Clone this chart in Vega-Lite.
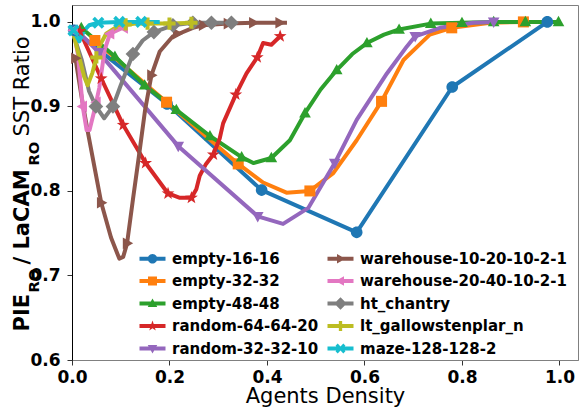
{
  "$schema": "https://vega.github.io/schema/vega-lite/v6.json",
  "width": 506,
  "height": 355,
  "autosize": {"type": "none"},
  "padding": {"left": 72, "top": 5, "right": 1, "bottom": 48},
  "config": {
    "font": "DejaVu Sans",
    "view": {"stroke": "#808080"},
    "axis": {"labelColor": "black", "titleColor": "black", "grid": false}
  },
  "datasets": {
    "lines": [
      {"s": "empty-16-16", "x": 0.004, "y": 0.99},
      {"s": "empty-16-16", "x": 0.195, "y": 0.903},
      {"s": "empty-16-16", "x": 0.389, "y": 0.801},
      {"s": "empty-16-16", "x": 0.584, "y": 0.751},
      {"s": "empty-16-16", "x": 0.78, "y": 0.923},
      {"s": "empty-16-16", "x": 0.975, "y": 1.0},
      {"s": "empty-32-32", "x": 0.047, "y": 0.978},
      {"s": "empty-32-32", "x": 0.194, "y": 0.905},
      {"s": "empty-32-32", "x": 0.341, "y": 0.832},
      {"s": "empty-32-32", "x": 0.392, "y": 0.81},
      {"s": "empty-32-32", "x": 0.44, "y": 0.798},
      {"s": "empty-32-32", "x": 0.488, "y": 0.8},
      {"s": "empty-32-32", "x": 0.536, "y": 0.821},
      {"s": "empty-32-32", "x": 0.584, "y": 0.86},
      {"s": "empty-32-32", "x": 0.635, "y": 0.906},
      {"s": "empty-32-32", "x": 0.68, "y": 0.955},
      {"s": "empty-32-32", "x": 0.734, "y": 0.985},
      {"s": "empty-32-32", "x": 0.779, "y": 0.993},
      {"s": "empty-32-32", "x": 0.858, "y": 0.999},
      {"s": "empty-32-32", "x": 0.926, "y": 1.0},
      {"s": "empty-48-48", "x": 0.019, "y": 0.993},
      {"s": "empty-48-48", "x": 0.088, "y": 0.959},
      {"s": "empty-48-48", "x": 0.149, "y": 0.925},
      {"s": "empty-48-48", "x": 0.214, "y": 0.896},
      {"s": "empty-48-48", "x": 0.283, "y": 0.865},
      {"s": "empty-48-48", "x": 0.348, "y": 0.84},
      {"s": "empty-48-48", "x": 0.372, "y": 0.833},
      {"s": "empty-48-48", "x": 0.409, "y": 0.839},
      {"s": "empty-48-48", "x": 0.447, "y": 0.86},
      {"s": "empty-48-48", "x": 0.478, "y": 0.892},
      {"s": "empty-48-48", "x": 0.51, "y": 0.92},
      {"s": "empty-48-48", "x": 0.543, "y": 0.943},
      {"s": "empty-48-48", "x": 0.575, "y": 0.962},
      {"s": "empty-48-48", "x": 0.605, "y": 0.975},
      {"s": "empty-48-48", "x": 0.64, "y": 0.985},
      {"s": "empty-48-48", "x": 0.671, "y": 0.991},
      {"s": "empty-48-48", "x": 0.736, "y": 0.998},
      {"s": "empty-48-48", "x": 0.8, "y": 0.999},
      {"s": "empty-48-48", "x": 0.865, "y": 1.0},
      {"s": "empty-48-48", "x": 0.93, "y": 1.0},
      {"s": "empty-48-48", "x": 0.998, "y": 1.0},
      {"s": "random-64-64-20", "x": 0.003, "y": 0.993},
      {"s": "random-64-64-20", "x": 0.016, "y": 0.989},
      {"s": "random-64-64-20", "x": 0.06, "y": 0.933},
      {"s": "random-64-64-20", "x": 0.105, "y": 0.878},
      {"s": "random-64-64-20", "x": 0.151, "y": 0.833},
      {"s": "random-64-64-20", "x": 0.197, "y": 0.797},
      {"s": "random-64-64-20", "x": 0.22, "y": 0.792},
      {"s": "random-64-64-20", "x": 0.245, "y": 0.792},
      {"s": "random-64-64-20", "x": 0.255, "y": 0.802},
      {"s": "random-64-64-20", "x": 0.262, "y": 0.818},
      {"s": "random-64-64-20", "x": 0.275, "y": 0.832},
      {"s": "random-64-64-20", "x": 0.29, "y": 0.843},
      {"s": "random-64-64-20", "x": 0.303, "y": 0.862},
      {"s": "random-64-64-20", "x": 0.31, "y": 0.88},
      {"s": "random-64-64-20", "x": 0.336, "y": 0.914},
      {"s": "random-64-64-20", "x": 0.358, "y": 0.939},
      {"s": "random-64-64-20", "x": 0.38, "y": 0.958},
      {"s": "random-64-64-20", "x": 0.392, "y": 0.975},
      {"s": "random-64-64-20", "x": 0.409, "y": 0.973},
      {"s": "random-64-64-20", "x": 0.427, "y": 0.983},
      {"s": "random-32-32-10", "x": 0.01, "y": 0.99},
      {"s": "random-32-32-10", "x": 0.055, "y": 0.964},
      {"s": "random-32-32-10", "x": 0.218, "y": 0.853},
      {"s": "random-32-32-10", "x": 0.381, "y": 0.77},
      {"s": "random-32-32-10", "x": 0.433, "y": 0.761},
      {"s": "random-32-32-10", "x": 0.485, "y": 0.78},
      {"s": "random-32-32-10", "x": 0.539, "y": 0.833},
      {"s": "random-32-32-10", "x": 0.584, "y": 0.884},
      {"s": "random-32-32-10", "x": 0.646, "y": 0.939},
      {"s": "random-32-32-10", "x": 0.687, "y": 0.971},
      {"s": "random-32-32-10", "x": 0.704, "y": 0.983},
      {"s": "random-32-32-10", "x": 0.755, "y": 0.993},
      {"s": "random-32-32-10", "x": 0.823, "y": 0.999},
      {"s": "random-32-32-10", "x": 0.865, "y": 1.0},
      {"s": "warehouse-10-20-10-2-1", "x": 0.007, "y": 0.957},
      {"s": "warehouse-10-20-10-2-1", "x": 0.02, "y": 0.91},
      {"s": "warehouse-10-20-10-2-1", "x": 0.033, "y": 0.868},
      {"s": "warehouse-10-20-10-2-1", "x": 0.06, "y": 0.786},
      {"s": "warehouse-10-20-10-2-1", "x": 0.08, "y": 0.745},
      {"s": "warehouse-10-20-10-2-1", "x": 0.097, "y": 0.72},
      {"s": "warehouse-10-20-10-2-1", "x": 0.105, "y": 0.722},
      {"s": "warehouse-10-20-10-2-1", "x": 0.113, "y": 0.738},
      {"s": "warehouse-10-20-10-2-1", "x": 0.125, "y": 0.79},
      {"s": "warehouse-10-20-10-2-1", "x": 0.137, "y": 0.84},
      {"s": "warehouse-10-20-10-2-1", "x": 0.15, "y": 0.896},
      {"s": "warehouse-10-20-10-2-1", "x": 0.163, "y": 0.937},
      {"s": "warehouse-10-20-10-2-1", "x": 0.18, "y": 0.965},
      {"s": "warehouse-10-20-10-2-1", "x": 0.207, "y": 0.983},
      {"s": "warehouse-10-20-10-2-1", "x": 0.248, "y": 0.993},
      {"s": "warehouse-10-20-10-2-1", "x": 0.269, "y": 0.996},
      {"s": "warehouse-10-20-10-2-1", "x": 0.32, "y": 0.998},
      {"s": "warehouse-10-20-10-2-1", "x": 0.372, "y": 0.999},
      {"s": "warehouse-10-20-10-2-1", "x": 0.441, "y": 0.999},
      {"s": "warehouse-20-40-10-2-1", "x": 0.003, "y": 0.99},
      {"s": "warehouse-20-40-10-2-1", "x": 0.012, "y": 0.962},
      {"s": "warehouse-20-40-10-2-1", "x": 0.022, "y": 0.9},
      {"s": "warehouse-20-40-10-2-1", "x": 0.03, "y": 0.872},
      {"s": "warehouse-20-40-10-2-1", "x": 0.036, "y": 0.872},
      {"s": "warehouse-20-40-10-2-1", "x": 0.045, "y": 0.893},
      {"s": "warehouse-20-40-10-2-1", "x": 0.056, "y": 0.922},
      {"s": "warehouse-20-40-10-2-1", "x": 0.067, "y": 0.967},
      {"s": "warehouse-20-40-10-2-1", "x": 0.078, "y": 0.986},
      {"s": "warehouse-20-40-10-2-1", "x": 0.1, "y": 0.992},
      {"s": "warehouse-20-40-10-2-1", "x": 0.114, "y": 0.995},
      {"s": "ht_chantry", "x": 0.003, "y": 0.985},
      {"s": "ht_chantry", "x": 0.02, "y": 0.955},
      {"s": "ht_chantry", "x": 0.035, "y": 0.918},
      {"s": "ht_chantry", "x": 0.049, "y": 0.9},
      {"s": "ht_chantry", "x": 0.066, "y": 0.886},
      {"s": "ht_chantry", "x": 0.084, "y": 0.9},
      {"s": "ht_chantry", "x": 0.1, "y": 0.925},
      {"s": "ht_chantry", "x": 0.125, "y": 0.962},
      {"s": "ht_chantry", "x": 0.145, "y": 0.978},
      {"s": "ht_chantry", "x": 0.168, "y": 0.988},
      {"s": "ht_chantry", "x": 0.207, "y": 0.996},
      {"s": "ht_chantry", "x": 0.248, "y": 0.999},
      {"s": "ht_chantry", "x": 0.286, "y": 0.999},
      {"s": "ht_chantry", "x": 0.327, "y": 0.999},
      {"s": "lt_gallowstenplar_n", "x": 0.003, "y": 0.986},
      {"s": "lt_gallowstenplar_n", "x": 0.015, "y": 0.958},
      {"s": "lt_gallowstenplar_n", "x": 0.025, "y": 0.935},
      {"s": "lt_gallowstenplar_n", "x": 0.032, "y": 0.925},
      {"s": "lt_gallowstenplar_n", "x": 0.042, "y": 0.94},
      {"s": "lt_gallowstenplar_n", "x": 0.056, "y": 0.971},
      {"s": "lt_gallowstenplar_n", "x": 0.07, "y": 0.986},
      {"s": "lt_gallowstenplar_n", "x": 0.094, "y": 0.995},
      {"s": "lt_gallowstenplar_n", "x": 0.13, "y": 0.998},
      {"s": "lt_gallowstenplar_n", "x": 0.2, "y": 0.998},
      {"s": "lt_gallowstenplar_n", "x": 0.252, "y": 0.999},
      {"s": "maze-128-128-2", "x": 0.003, "y": 0.99},
      {"s": "maze-128-128-2", "x": 0.015, "y": 0.977},
      {"s": "maze-128-128-2", "x": 0.025, "y": 0.99},
      {"s": "maze-128-128-2", "x": 0.035, "y": 0.996},
      {"s": "maze-128-128-2", "x": 0.054, "y": 0.999},
      {"s": "maze-128-128-2", "x": 0.097, "y": 1.0},
      {"s": "maze-128-128-2", "x": 0.142, "y": 1.0},
      {"s": "maze-128-128-2", "x": 0.18, "y": 1.0}
    ],
    "markers": [
      {"s": "empty-16-16", "x": 0.004, "y": 0.99},
      {"s": "empty-16-16", "x": 0.195, "y": 0.903},
      {"s": "empty-16-16", "x": 0.389, "y": 0.801},
      {"s": "empty-16-16", "x": 0.584, "y": 0.751},
      {"s": "empty-16-16", "x": 0.78, "y": 0.923},
      {"s": "empty-16-16", "x": 0.975, "y": 1.0},
      {"s": "empty-32-32", "x": 0.047, "y": 0.978},
      {"s": "empty-32-32", "x": 0.194, "y": 0.905},
      {"s": "empty-32-32", "x": 0.341, "y": 0.832},
      {"s": "empty-32-32", "x": 0.488, "y": 0.8},
      {"s": "empty-32-32", "x": 0.635, "y": 0.906},
      {"s": "empty-32-32", "x": 0.779, "y": 0.993},
      {"s": "empty-32-32", "x": 0.926, "y": 1.0},
      {"s": "empty-48-48", "x": 0.019, "y": 0.993},
      {"s": "empty-48-48", "x": 0.088, "y": 0.959},
      {"s": "empty-48-48", "x": 0.149, "y": 0.925},
      {"s": "empty-48-48", "x": 0.214, "y": 0.896},
      {"s": "empty-48-48", "x": 0.283, "y": 0.865},
      {"s": "empty-48-48", "x": 0.348, "y": 0.84},
      {"s": "empty-48-48", "x": 0.409, "y": 0.839},
      {"s": "empty-48-48", "x": 0.478, "y": 0.892},
      {"s": "empty-48-48", "x": 0.543, "y": 0.943},
      {"s": "empty-48-48", "x": 0.605, "y": 0.975},
      {"s": "empty-48-48", "x": 0.671, "y": 0.991},
      {"s": "empty-48-48", "x": 0.736, "y": 0.998},
      {"s": "empty-48-48", "x": 0.8, "y": 0.999},
      {"s": "empty-48-48", "x": 0.865, "y": 1.0},
      {"s": "empty-48-48", "x": 0.93, "y": 1.0},
      {"s": "empty-48-48", "x": 0.998, "y": 1.0},
      {"s": "random-64-64-20", "x": 0.016, "y": 0.989},
      {"s": "random-64-64-20", "x": 0.06, "y": 0.933},
      {"s": "random-64-64-20", "x": 0.105, "y": 0.878},
      {"s": "random-64-64-20", "x": 0.151, "y": 0.833},
      {"s": "random-64-64-20", "x": 0.197, "y": 0.797},
      {"s": "random-64-64-20", "x": 0.245, "y": 0.792},
      {"s": "random-64-64-20", "x": 0.29, "y": 0.843},
      {"s": "random-64-64-20", "x": 0.336, "y": 0.914},
      {"s": "random-64-64-20", "x": 0.38, "y": 0.958},
      {"s": "random-64-64-20", "x": 0.427, "y": 0.983},
      {"s": "random-32-32-10", "x": 0.055, "y": 0.964},
      {"s": "random-32-32-10", "x": 0.218, "y": 0.853},
      {"s": "random-32-32-10", "x": 0.381, "y": 0.77},
      {"s": "random-32-32-10", "x": 0.539, "y": 0.833},
      {"s": "random-32-32-10", "x": 0.704, "y": 0.983},
      {"s": "random-32-32-10", "x": 0.865, "y": 1.0},
      {"s": "warehouse-10-20-10-2-1", "x": 0.007, "y": 0.957},
      {"s": "warehouse-10-20-10-2-1", "x": 0.06, "y": 0.786},
      {"s": "warehouse-10-20-10-2-1", "x": 0.113, "y": 0.738},
      {"s": "warehouse-10-20-10-2-1", "x": 0.163, "y": 0.937},
      {"s": "warehouse-10-20-10-2-1", "x": 0.216, "y": 0.986},
      {"s": "warehouse-10-20-10-2-1", "x": 0.269, "y": 0.996},
      {"s": "warehouse-10-20-10-2-1", "x": 0.32, "y": 0.998},
      {"s": "warehouse-10-20-10-2-1", "x": 0.372, "y": 0.999},
      {"s": "warehouse-10-20-10-2-1", "x": 0.426, "y": 0.999},
      {"s": "warehouse-20-40-10-2-1", "x": 0.003, "y": 0.99},
      {"s": "warehouse-20-40-10-2-1", "x": 0.022, "y": 0.9},
      {"s": "warehouse-20-40-10-2-1", "x": 0.05, "y": 0.905},
      {"s": "warehouse-20-40-10-2-1", "x": 0.078, "y": 0.986},
      {"s": "warehouse-20-40-10-2-1", "x": 0.106, "y": 0.993},
      {"s": "ht_chantry", "x": 0.049, "y": 0.9},
      {"s": "ht_chantry", "x": 0.084, "y": 0.9},
      {"s": "ht_chantry", "x": 0.125, "y": 0.962},
      {"s": "ht_chantry", "x": 0.168, "y": 0.988},
      {"s": "ht_chantry", "x": 0.207, "y": 0.996},
      {"s": "ht_chantry", "x": 0.248, "y": 0.999},
      {"s": "ht_chantry", "x": 0.286, "y": 0.999},
      {"s": "ht_chantry", "x": 0.327, "y": 0.999},
      {"s": "lt_gallowstenplar_n", "x": 0.05, "y": 0.958},
      {"s": "lt_gallowstenplar_n", "x": 0.11, "y": 0.997},
      {"s": "lt_gallowstenplar_n", "x": 0.155, "y": 0.998},
      {"s": "lt_gallowstenplar_n", "x": 0.2, "y": 0.998},
      {"s": "lt_gallowstenplar_n", "x": 0.245, "y": 0.999},
      {"s": "maze-128-128-2", "x": 0.003, "y": 0.99},
      {"s": "maze-128-128-2", "x": 0.054, "y": 0.999},
      {"s": "maze-128-128-2", "x": 0.097, "y": 1.0},
      {"s": "maze-128-128-2", "x": 0.142, "y": 1.0}
    ]
  },
  "encoding": {
    "x": {
      "field": "x", "type": "quantitative",
      "scale": {"domain": [0, 1.038], "nice": false, "zero": false},
      "axis": {
        "values": [0, 0.2, 0.4, 0.6, 0.8, 1.0], "format": ".1f",
        "title": "Agents Density", "titleFontSize": 21, "titleFontWeight": "normal",
        "titleY": 42, "titleBaseline": "alphabetic",
        "labelFontSize": 17, "labelFontWeight": "bold", "labelFlush": false,
        "tickSize": 5, "labelPadding": 4, "domainColor": "#808080", "tickColor": "#333", "grid": false
      }
    }
  },
  "layer": [
    {
      "data": {"name": "lines"},
      "mark": {"type": "line", "strokeWidth": 4, "strokeJoin": "round"},
      "encoding": {
        "y": {
          "field": "y", "type": "quantitative",
          "scale": {"domain": [0.6, 1.02], "nice": false, "zero": false},
          "axis": {
            "orient": "left", "values": [0.6, 0.7, 0.8, 0.9, 1.0], "format": ".1f",
            "title": "PIE", "titleFontSize": 21, "titleFontWeight": "bold",
            "titleAngle": -90, "titleAlign": "left", "titleBaseline": "alphabetic",
            "titleX": -43.5, "titleY": 326,
            "labelFontSize": 17, "labelFontWeight": "bold", "tickSize": 5, "labelPadding": 7,
            "domainColor": "black", "tickColor": "#333", "grid": false
          }
        },
        "color": {
          "field": "s", "type": "nominal", "legend": null,
          "scale": {
            "domain": ["empty-16-16", "empty-32-32", "empty-48-48", "random-64-64-20", "random-32-32-10", "warehouse-10-20-10-2-1", "warehouse-20-40-10-2-1", "ht_chantry", "lt_gallowstenplar_n", "maze-128-128-2"],
            "range": ["#1f77b4", "#ff7f0e", "#2ca02c", "#d62728", "#9467bd", "#8c564b", "#e377c2", "#7f7f7f", "#bcbd22", "#17becf"]
          }
        }
      }
    },
    {
      "data": {"name": "markers"},
      "mark": {"type": "point", "filled": true, "size": 150, "opacity": 1, "strokeWidth": 0},
      "encoding": {
        "y": {
          "field": "y", "type": "quantitative",
          "scale": {"domain": [0.6, 1.02], "nice": false, "zero": false},
          "axis": {
            "orient": "left", "labels": false, "ticks": false, "domain": false, "grid": false,
            "title": "RO", "titleFontSize": 14.7, "titleFontWeight": "bold",
            "titleAngle": -90, "titleAlign": "left", "titleBaseline": "alphabetic",
            "titleX": -34, "titleY": 287
          }
        },
        "color": {
          "field": "s", "type": "nominal", "legend": null,
          "scale": {
            "domain": ["empty-16-16", "empty-32-32", "empty-48-48", "random-64-64-20", "random-32-32-10", "warehouse-10-20-10-2-1", "warehouse-20-40-10-2-1", "ht_chantry", "lt_gallowstenplar_n", "maze-128-128-2"],
            "range": ["#1f77b4", "#ff7f0e", "#2ca02c", "#d62728", "#9467bd", "#8c564b", "#e377c2", "#7f7f7f", "#bcbd22", "#17becf"]
          }
        },
        "shape": {
          "field": "s", "type": "nominal", "legend": null,
          "scale": {
            "domain": ["empty-16-16", "empty-32-32", "empty-48-48", "random-64-64-20", "random-32-32-10", "warehouse-10-20-10-2-1", "warehouse-20-40-10-2-1", "ht_chantry", "lt_gallowstenplar_n", "maze-128-128-2"],
            "range": [
              "M-0.95,0A0.95,0.95 0 1,1 0.95,0A0.95,0.95 0 1,1 -0.95,0Z",
              "M-0.9,-0.9H0.9V0.9H-0.9Z",
              "M0,-1L0.95,0.7L-0.95,0.7Z",
              "M0,-1.1L0.259,-0.356L1.046,-0.34L0.418,0.136L0.647,0.89L0,0.44L-0.647,0.89L-0.418,0.136L-1.046,-0.34L-0.259,-0.356Z",
              "M0,1L-0.95,-0.7L0.95,-0.7Z",
              "M1,0L-0.7,0.95L-0.7,-0.95Z",
              "M-1,0L0.7,-0.95L0.7,0.95Z",
              "M0,-1.2L1.2,0L0,1.2L-1.2,0Z",
              "M-0.33,-1H0.33V-0.33H1V0.33H0.33V1H-0.33V0.33H-1V-0.33H-0.33Z",
              "M0.566,-0.99L0.99,-0.566L0.424,0L0.99,0.566L0.566,0.99L0,0.424L-0.566,0.99L-0.99,0.566L-0.424,0L-0.99,-0.566L-0.566,-0.99L0,-0.424Z"
            ]
          }
        }
      }
    },
    {
      "data": {"name": "markers"},
      "transform": [{"filter": {"field": "x", "lt": -1}}],
      "mark": {"type": "point", "filled": true, "size": 100, "opacity": 1, "strokeWidth": 0},
      "encoding": {
        "y": {
          "field": "y", "type": "quantitative",
          "scale": {"domain": [0.6, 1.02], "nice": false, "zero": false},
          "axis": {
            "orient": "left", "labels": false, "ticks": false, "domain": false, "grid": false,
            "title": "/ LaCAM", "titleFontSize": 21, "titleFontWeight": "bold",
            "titleAngle": -90, "titleAlign": "left", "titleBaseline": "alphabetic",
            "titleX": -43.5, "titleY": 259
          }
        },
        "color": {
          "field": "s", "type": "nominal",
          "scale": {
            "domain": ["empty-16-16", "empty-32-32", "empty-48-48", "random-64-64-20", "random-32-32-10", "warehouse-10-20-10-2-1", "warehouse-20-40-10-2-1", "ht_chantry", "lt_gallowstenplar_n", "maze-128-128-2"],
            "range": ["#1f77b4", "#ff7f0e", "#2ca02c", "#d62728", "#9467bd", "#8c564b", "#e377c2", "#7f7f7f", "#bcbd22", "#17becf"]
          },
          "legend": {
            "orient": "none", "legendX": 73, "legendY": 246, "columns": 2, "title": null,
            "labelFont": "DejaVu Sans", "labelFontSize": 15, "labelFontWeight": "bold", "labelColor": "black",
            "labelOffset": 12, "labelLimit": 400, "symbolSize": 100, "symbolStrokeWidth": 0, "symbolOpacity": 1,
            "rowPadding": 6.5, "columnPadding": 8, "padding": 0
          }
        },
        "shape": {
          "field": "s", "type": "nominal",
          "scale": {
            "domain": ["empty-16-16", "empty-32-32", "empty-48-48", "random-64-64-20", "random-32-32-10", "warehouse-10-20-10-2-1", "warehouse-20-40-10-2-1", "ht_chantry", "lt_gallowstenplar_n", "maze-128-128-2"],
            "range": [
              "M-2.6,-0.4H2.6V0.4H-2.6ZM-0.95,0A0.95,0.95 0 1,1 0.95,0A0.95,0.95 0 1,1 -0.95,0Z",
              "M-2.6,-0.4H2.6V0.4H-2.6ZM-0.9,-0.9H0.9V0.9H-0.9Z",
              "M-2.6,-0.4H2.6V0.4H-2.6ZM0,-1L0.95,0.7L-0.95,0.7Z",
              "M-2.6,-0.4H2.6V0.4H-2.6ZM0,-1.1L0.259,-0.356L1.046,-0.34L0.418,0.136L0.647,0.89L0,0.44L-0.647,0.89L-0.418,0.136L-1.046,-0.34L-0.259,-0.356Z",
              "M-2.6,-0.4H2.6V0.4H-2.6ZM0,1L-0.95,-0.7L0.95,-0.7Z",
              "M-2.6,-0.4H2.6V0.4H-2.6ZM1,0L-0.7,0.95L-0.7,-0.95Z",
              "M-2.6,-0.4H2.6V0.4H-2.6ZM-1,0L0.7,-0.95L0.7,0.95Z",
              "M-2.6,-0.4H2.6V0.4H-2.6ZM0,-1.25L1.25,0L0,1.25L-1.25,0Z",
              "M-2.6,-0.4H2.6V0.4H-2.6ZM-0.33,-1H0.33V-0.33H1V0.33H0.33V1H-0.33V0.33H-1V-0.33H-0.33Z",
              "M-2.6,-0.4H2.6V0.4H-2.6ZM0.566,-0.99L0.99,-0.566L0.424,0L0.99,0.566L0.566,0.99L0,0.424L-0.566,0.99L-0.99,0.566L-0.424,0L-0.99,-0.566L-0.566,-0.99L0,-0.424Z"
            ]
          },
          "legend": {
            "orient": "none", "legendX": 73, "legendY": 246, "columns": 2, "title": null,
            "labelFont": "DejaVu Sans", "labelFontSize": 15, "labelFontWeight": "bold", "labelColor": "black",
            "labelOffset": 12, "labelLimit": 400, "symbolSize": 100, "symbolStrokeWidth": 0, "symbolOpacity": 1,
            "rowPadding": 6.5, "columnPadding": 8, "padding": 0
          }
        }
      }
    },
    {
      "data": {"name": "markers"},
      "transform": [{"filter": {"field": "x", "lt": -1}}],
      "mark": {"type": "point"},
      "encoding": {
        "y": {
          "field": "y", "type": "quantitative",
          "scale": {"domain": [0.6, 1.02], "nice": false, "zero": false},
          "axis": {
            "orient": "left", "labels": false, "ticks": false, "domain": false, "grid": false,
            "title": "RO", "titleFontSize": 14.7, "titleFontWeight": "bold",
            "titleAngle": -90, "titleAlign": "left", "titleBaseline": "alphabetic",
            "titleX": -34, "titleY": 160
          }
        }
      }
    },
    {
      "data": {"name": "markers"},
      "transform": [{"filter": {"field": "x", "lt": -1}}],
      "mark": {"type": "point"},
      "encoding": {
        "y": {
          "field": "y", "type": "quantitative",
          "scale": {"domain": [0.6, 1.02], "nice": false, "zero": false},
          "axis": {
            "orient": "left", "labels": false, "ticks": false, "domain": false, "grid": false,
            "title": "SST Ratio", "titleFontSize": 21, "titleFontWeight": "normal",
            "titleAngle": -90, "titleAlign": "left", "titleBaseline": "alphabetic",
            "titleX": -43.5, "titleY": 131
          }
        }
      }
    }
  ],
  "resolve": {
    "scale": {"color": "independent", "shape": "independent"},
    "axis": {"y": "independent"}
  }
}
